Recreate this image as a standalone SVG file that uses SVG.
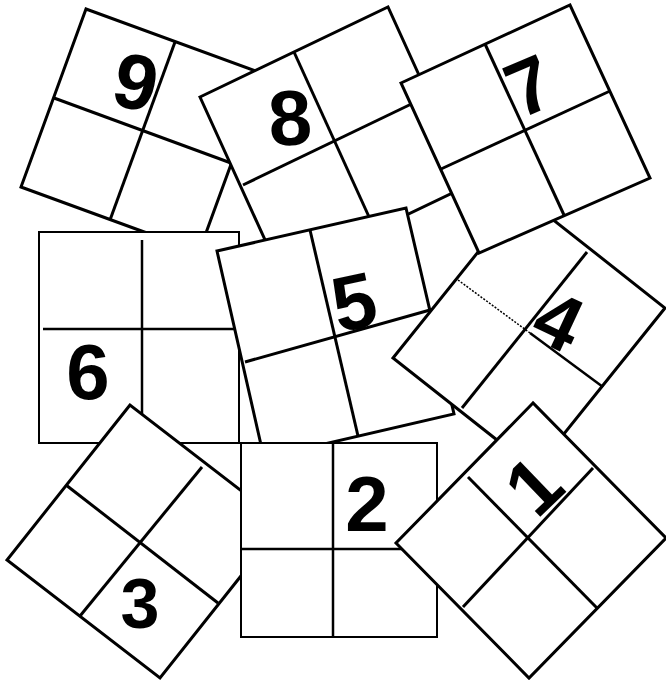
<svg xmlns="http://www.w3.org/2000/svg" width="666" height="684" viewBox="0 0 666 684">
<style>
.sq{fill:#fff;stroke:#000;stroke-width:3;stroke-linejoin:miter}
.thin{fill:#fff;stroke:#000;stroke-width:2}
.mid{fill:none;stroke:#000;stroke-width:3}
.mid2{fill:none;stroke:#000;stroke-width:2.5}
.dot{fill:none;stroke:#000;stroke-width:1.5;stroke-dasharray:2 1.5}
.num{font-family:"Liberation Sans",Arial,sans-serif;font-weight:bold;font-size:78px;text-anchor:middle;fill:#000}
</style>
<rect width="666" height="684" fill="#fff"/>
<g id="sq9">
<polygon class="sq" points="86,9 264,74 199,252 21,187"/>
<line class="mid" x1="175" y1="42" x2="110" y2="220"/>
<line class="mid" x1="54" y1="98" x2="231" y2="163"/>
<text class="num" transform="translate(136,81) rotate(12)" x="0" y="28">9</text>
</g>
<g id="sq8">
<polygon class="sq" points="200,97 388,7 469,185 281,275"/>
<line class="mid" x1="294" y1="52" x2="375" y2="230"/>
<line class="mid" x1="243" y1="185" x2="428" y2="96"/>
<text class="num" transform="translate(290,117) rotate(-3)" x="0" y="28">8</text>
</g>
<g id="sq6">
<rect class="thin" x="39" y="232" width="200" height="211"/>
<line class="mid2" x1="142" y1="240" x2="142" y2="443"/>
<line class="mid2" x1="43" y1="329" x2="236" y2="329"/>
<text class="num" transform="translate(88,371)" x="0" y="28">6</text>
</g>
<g id="sq5">
<polygon class="sq" points="217,251 406,208 454,414 264,458"/>
<line class="mid" x1="310" y1="230" x2="358" y2="436"/>
<line class="mid" x1="245" y1="362" x2="430" y2="310"/>
<text class="num" transform="translate(354,301) rotate(-12)" x="0" y="28">5</text>
</g>
<g id="sq4">
<polygon class="sq" points="393,358 523,196 665,308 535,470"/>
<line class="dot" x1="458" y1="280" x2="530" y2="333"/>
<line class="mid2" x1="530" y1="333" x2="603" y2="387"/>
<line class="mid" x1="587" y1="252" x2="462" y2="408"/>
<text class="num" transform="translate(559,320) rotate(25)" x="0" y="28">4</text>
</g>
<g id="sq7">
<polygon class="sq" points="401,83 570,5 650,178 479,253"/>
<line class="mid" x1="485" y1="44" x2="564" y2="215"/>
<line class="mid" x1="441" y1="169" x2="610" y2="91"/>
<text class="num" transform="translate(529,85) rotate(-23)" x="0" y="28">7</text>
</g>
<g id="sq3">
<polygon class="sq" points="130,405 7,560 160,678 283,523"/>
<line class="mid" x1="66" y1="485" x2="218" y2="603"/>
<line class="mid" x1="202" y1="467" x2="80" y2="616"/>
<text class="num" style="font-size:70px" transform="translate(140,603)" x="0" y="25">3</text>
</g>
<g id="sq2">
<rect class="thin" x="241" y="443" width="196" height="194"/>
<line class="mid2" x1="333" y1="443" x2="333" y2="637"/>
<line class="mid2" x1="241" y1="549" x2="437" y2="549"/>
<text class="num" transform="translate(367,503)" x="0" y="28">2</text>
</g>
<g id="sq1">
<polygon class="sq" points="533,403 396,543 529,678 666,538"/>
<line class="mid" x1="468" y1="477" x2="597" y2="608"/>
<line class="mid" x1="593" y1="468" x2="463" y2="607"/>
<text class="num" transform="translate(533,485) rotate(-44)" x="0" y="28">1</text>
</g>
</svg>
